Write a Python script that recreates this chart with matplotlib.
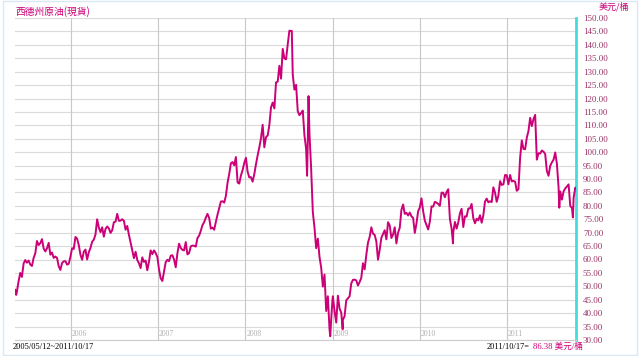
import matplotlib
matplotlib.use("Agg")
import matplotlib.pyplot as plt
import pandas as pd

# WTI spot, weekly (Friday) closes, USD per barrel
prix_2005 = [48.7, 48.0, 51.9, 55.0, 53.5, 58.5, 59.8, 58.8, 59.6, 58.1, 57.6, 60.6,
             62.3, 66.9, 65.4, 66.1, 67.6, 64.1, 63.0, 64.2, 66.2, 61.8, 62.6, 60.6,
             61.1, 60.6, 57.5, 56.1, 58.7, 59.3, 59.4, 58.1, 58.4, 61.0]
prix_2006 = [64.2, 63.9, 68.4, 67.8, 65.4, 61.8, 59.9, 62.9, 63.7, 60.0, 62.7, 64.3,
             66.6, 67.4, 69.3, 75.0, 71.9, 70.2, 72.0, 68.5, 71.4, 72.3, 71.6, 69.9,
             70.9, 73.9, 74.1, 77.0, 74.4, 74.5, 75.0, 74.4, 71.1, 72.5, 69.2, 66.3,
             63.3, 60.5, 62.9, 59.8, 58.6, 56.8, 60.8, 59.1, 59.6, 56.0, 59.2, 63.4,
             62.0, 63.4, 62.4, 61.0]
prix_2007 = [56.3, 53.0, 52.0, 55.4, 59.0, 59.9, 59.4, 61.4, 61.6, 60.0, 57.1, 62.3,
             65.9, 64.3, 63.6, 63.4, 66.5, 61.9, 62.4, 64.9, 65.2, 65.1, 64.8, 68.0,
             68.9, 70.7, 72.8, 73.9, 75.6, 77.0, 75.5, 71.5, 71.9, 71.1, 74.0, 76.7,
             79.1, 81.6, 81.7, 81.2, 83.7, 88.6, 91.9, 95.9, 96.3, 95.1, 98.2, 88.7,
             88.3, 91.3, 93.3, 96.0]
prix_2008 = [97.9, 92.7, 90.6, 90.7, 89.0, 91.8, 95.5, 98.8, 101.8, 105.2, 110.2, 101.8,
             105.6, 106.2, 110.1, 116.7, 118.5, 116.3, 126.0, 126.3, 132.2, 127.4, 138.5, 134.9,
             134.6, 140.2, 145.3, 145.1, 128.9, 123.3, 125.1, 115.2, 113.8, 114.6, 115.5, 106.2,
             101.2, 104.6, 106.9, 93.9, 77.7, 71.9, 64.2, 67.8, 61.0, 57.0, 49.9, 54.4,
             40.8, 46.3, 33.9, 37.7]
prix_2009 = [46.3, 40.8, 36.5, 46.5, 41.7, 40.2, 37.5, 38.9, 44.8, 45.5, 46.3, 51.1,
             52.4, 52.5, 52.2, 50.3, 51.6, 53.2, 58.6, 56.3, 61.7, 66.3, 68.4, 72.0,
             69.6, 69.2, 66.7, 59.9, 63.6, 68.1, 69.5, 70.9, 67.5, 73.9, 72.7, 68.0,
             69.3, 72.0, 66.0, 70.0, 71.8, 78.5, 80.5, 77.0, 77.4, 76.4, 77.5, 76.1,
             75.5, 69.9, 73.4, 78.0]
prix_2010 = [79.4, 82.8, 78.0, 74.5, 72.9, 71.2, 74.1, 79.8, 79.7, 81.5, 81.2, 80.7,
             80.0, 84.9, 84.9, 83.2, 85.1, 86.2, 75.1, 71.6, 70.0, 74.0, 71.5, 73.8,
             77.2, 78.9, 72.1, 76.1, 76.0, 79.0, 79.0, 80.7, 75.4, 73.5, 75.2, 74.6,
             76.5, 73.7, 76.5, 81.6, 82.7, 81.3, 81.7, 81.4, 86.9, 84.9, 81.5, 83.8,
             89.2, 87.8, 88.0, 91.5, 91.4]
prix_2011 = [88.0, 91.5, 89.1, 89.3, 89.0, 85.6, 86.2, 97.9, 104.4, 101.2, 101.1, 105.4,
             107.9, 112.8, 109.7, 112.3, 113.9, 97.2, 99.6, 99.5, 100.6, 100.2, 99.3, 93.0,
             91.2, 94.9, 96.2, 97.2, 99.9, 95.7, 86.9, 85.4, 82.3, 85.4, 86.5, 87.2,
             88.0, 79.9, 79.2, 83.0, 86.8]

# quelques jours isolés (pics et creux visibles)
jours_extra = ["2005-05-17", "2008-07-14", "2008-09-16", "2008-09-22", "2008-12-22",
               "2008-12-31", "2009-02-12", "2010-05-20", "2011-08-08", "2011-10-04",
               "2011-10-17"]
prix_extra = [46.8, 145.2, 91.2, 120.9, 31.4, 44.6, 34.0, 66.0, 79.3, 75.7, 86.38]

annees = ["2006", "2007", "2008", "2009", "2010", "2011"]
debut, fin = "2005-05-12", "2011-10-17"

MAGENTA = "#cc0077"
VIOLET = "#993366"

dates = pd.date_range("2005-05-13", "2011-10-14", freq="W-FRI")
valeurs = prix_2005 + prix_2006 + prix_2007 + prix_2008 + prix_2009 + prix_2010 + prix_2011
serie = pd.Series(valeurs, index=dates)
serie = pd.concat([serie, pd.Series(prix_extra, index=pd.to_datetime(jours_extra))]).sort_index()

fig = plt.figure(figsize=(6.4, 3.56), dpi=100)
ax = fig.add_axes([15 / 640, 16 / 356, 561 / 640, 322 / 356])

# grille horizontale tous les 5 $
for v in range(30, 151, 5):
    ax.axhline(v, color="#dadada", linewidth=0.8, zorder=1)
for a in annees:
    ax.axvline(pd.Timestamp(a + "-01-01"), color="#c8c8c8", linewidth=0.8, zorder=1)
    ax.text(pd.Timestamp(a + "-01-01") + pd.Timedelta(days=4), 30.6, a,
            color="#b0b0b0", fontsize=5.5, family="Liberation Serif", va="bottom")

ax.plot(serie.index, serie.values, color=MAGENTA, linewidth=1.4, zorder=3)

ax.set_xlim(pd.Timestamp(debut), pd.Timestamp(fin))
ax.set_ylim(30, 150)
ax.yaxis.tick_right()
ax.set_yticks(range(30, 151, 5))
ax.set_yticklabels([f"{v:.2f}" for v in range(30, 151, 5)], color=VIOLET,
                   fontsize=6.5, family="Liberation Serif")
ax.tick_params(axis="y", length=0, pad=5)
ax.set_xticks([])
for s in ["top", "left"]:
    ax.spines[s].set_visible(False)
ax.spines["bottom"].set_color("#cccccc")
ax.spines["right"].set_color("#44dddd")
ax.spines["right"].set_linewidth(2)

cjk = ["Noto Sans CJK TC", "DejaVu Sans"]
fig.text(15 / 640, 1 - 12 / 356, "西德州原油(現貨)", color=MAGENTA, fontsize=7,
         family=cjk, va="center")
fig.text(614 / 640, 1 - 7 / 356, "美元/桶", color=MAGENTA, fontsize=6.5,
         family=cjk, va="center", ha="center")
fig.text(13 / 640, 1 - 347 / 356, "2005/05/12~2011/10/17", color="black", fontsize=6,
         family="Liberation Serif", va="center")
fig.text(487 / 640, 1 - 347 / 356, "2011/10/17=", color="black", fontsize=6,
         family="Liberation Serif", va="center")
fig.text(533 / 640, 1 - 347 / 356, "86.38 美元/桶", color=MAGENTA, fontsize=6.2,
         family=["Liberation Serif", "Noto Sans CJK TC"], va="center")

# fin liseré bleu autour de l'image
fig.patches.append(plt.Rectangle((3 / 640, 0.002), 1 - 6 / 640, 0.996, transform=fig.transFigure,
                                 fill=False, edgecolor="#d8e8f4", linewidth=1))

fig.savefig("out.png", dpi=100)
